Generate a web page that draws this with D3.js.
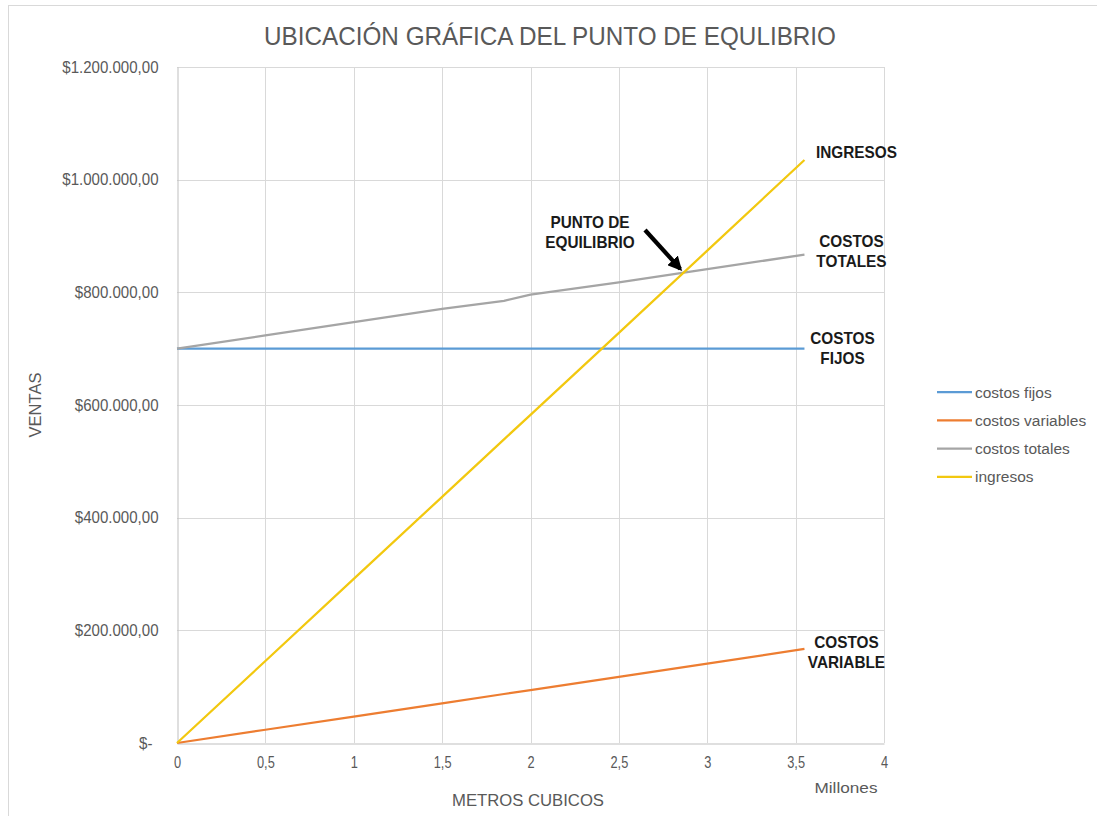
<!DOCTYPE html>
<html>
<head>
<meta charset="utf-8">
<script src="https://cdn.jsdelivr.net/npm/d3@7/dist/d3.min.js"></script>
<style>
  html, body { margin: 0; padding: 0; background: #fff; }
  svg { display: block; font-family: "Liberation Sans", Arial, sans-serif; }
</style>
</head>
<body>
<svg id="chart" width="1097" height="816"></svg>
<script>
// Volumen vendido (metros cúbicos)
const metros = [0, 500000, 1000000, 1500000, 1850000, 2000000, 2500000, 3000000, 3550000];
// Series en pesos
const costosFijos     = [700000, 700000, 700000, 700000, 700000, 700000, 700000, 700000, 700000];
const costosVariables = [0, 23500, 47000, 70500, 87000, 94000, 117500, 141000, 167000];
const costosTotales   = [700000, 723500, 747000, 770500, 785000, 796000, 817500, 841000, 867000];
const ingresos        = [0, 145600, 291300, 437000, 539000, 582600, 728000, 874000, 1035000];

const xTicks = [0, 500000, 1000000, 1500000, 2000000, 2500000, 3000000, 3500000, 4000000];
const xTickLabels = ["0", "0,5", "1", "1,5", "2", "2,5", "3", "3,5", "4"];
const yTicks = [0, 200000, 400000, 600000, 800000, 1000000, 1200000];
const yTickLabels = ["$-", "$200.000,00", "$400.000,00", "$600.000,00", "$800.000,00", "$1.000.000,00", "$1.200.000,00"];

const seriesNames = ["costos fijos", "costos variables", "costos totales", "ingresos"];
const seriesColors = ["#5B9BD5", "#ED7D31", "#A5A5A5", "#F2C80F"];
const seriesValues = [costosFijos, costosVariables, costosTotales, ingresos];
const endLabels = [["COSTOS", "FIJOS"], ["COSTOS", "VARIABLE"], ["COSTOS", "TOTALES"], ["INGRESOS"]];

const svg = d3.select("#chart");
const x = d3.scaleLinear().domain([0, 4000000]).range([177, 884]);
const y = d3.scaleLinear().domain([0, 1200000]).range([743, 67]);

// Narrow the glyphs of a text element horizontally by a factor
function squeeze(sel, f) {
  sel.each(function () {
    const w = this.getComputedTextLength();
    d3.select(this).attr("textLength", w * f).attr("lengthAdjust", "spacingAndGlyphs");
  });
}

// Chart frame
svg.append("rect").attr("x", 8.5).attr("y", 5.5).attr("width", 1200).attr("height", 900)
  .attr("fill", "none").attr("stroke", "#D9D9D9");

// Gridlines
svg.append("g").selectAll("line").data(yTicks.slice(1)).join("line")
  .attr("x1", x(0)).attr("x2", x(4000000))
  .attr("y1", d => Math.round(y(d)) + 0.5).attr("y2", d => Math.round(y(d)) + 0.5)
  .attr("stroke", "#D9D9D9");
svg.append("g").selectAll("line").data(xTicks.slice(1)).join("line")
  .attr("y1", y(0)).attr("y2", y(1200000))
  .attr("x1", d => Math.round(x(d)) + 0.5).attr("x2", d => Math.round(x(d)) + 0.5)
  .attr("stroke", "#D9D9D9");

// Axes
const xAxis = d3.axisBottom(x).tickValues(xTicks).tickSize(0).tickPadding(13)
  .tickFormat((d, i) => xTickLabels[i]);
const gx = svg.append("g").attr("transform", `translate(0,${Math.round(y(0)) + 0.5})`).call(xAxis);
gx.attr("font-family", null).attr("font-size", null);
gx.select(".domain").attr("stroke", "#BFBFBF");
gx.selectAll("text").attr("fill", "#595959").attr("font-size", 16).call(squeeze, 0.8);

const yAxis = d3.axisLeft(y).tickValues(yTicks).tickSize(0).tickPadding(19)
  .tickFormat((d, i) => yTickLabels[i]);
const gy = svg.append("g").attr("transform", `translate(${Math.round(x(0)) + 0.5},0)`).call(yAxis);
gy.attr("font-family", null).attr("font-size", null);
gy.select(".domain").attr("stroke", "#BFBFBF");
gy.selectAll("text").attr("fill", "#595959").attr("font-size", 16)
  .attr("dx", (d) => d === 0 ? -6 : 0).call(squeeze, 0.94);

// Series lines
const line = d3.line().x((d, i) => x(metros[i])).y(d => y(d));
seriesValues.forEach((vals, k) => {
  svg.append("path").datum(vals).attr("d", line)
    .attr("fill", "none").attr("stroke", seriesColors[k]).attr("stroke-width", 2.25)
    .attr("stroke-linejoin", "round");
});

// Labels at the end of each series
const last = metros.length - 1;
const labelPos = [[38, -5], [42, -1], [47, -8], [52, -2]];
seriesValues.forEach((vals, k) => {
  const cx = x(metros[last]) + labelPos[k][0];
  const cy = y(vals[last]) + labelPos[k][1];
  const t = svg.append("text").attr("text-anchor", "middle")
    .attr("font-size", 16.5).attr("font-weight", "bold").attr("fill", "#1A1A1A");
  endLabels[k].forEach((s, j) => {
    t.append("tspan").attr("x", cx).attr("y", cy + j * 20).text(s);
  });
  t.selectAll("tspan").call(squeeze, 0.93);
});

// Break-even annotation
const pe = 2864000;
const peY = 700000 + 0.04703 * pe;
const tipX = x(pe), tipY = y(peY);
const ann = svg.append("text").attr("text-anchor", "middle")
  .attr("font-size", 16.5).attr("font-weight", "bold").attr("fill", "#1A1A1A");
ann.append("tspan").attr("x", 590).attr("y", 228).text("PUNTO DE");
ann.append("tspan").attr("x", 590).attr("y", 248).text("EQUILIBRIO");
ann.selectAll("tspan").call(squeeze, 0.93);

svg.append("defs").append("marker").attr("id", "arrow")
  .attr("viewBox", "0 0 10 10").attr("refX", 8).attr("refY", 5)
  .attr("markerWidth", 3.4).attr("markerHeight", 3.4).attr("orient", "auto")
  .append("path").attr("d", "M0,0 L10,5 L0,10 Z").attr("fill", "#000");
svg.append("line").attr("x1", 645).attr("y1", 230).attr("x2", tipX - 3).attr("y2", tipY - 4)
  .attr("stroke", "#000").attr("stroke-width", 4.2).attr("marker-end", "url(#arrow)");

// Title
svg.append("text").attr("x", 550).attr("y", 45).attr("text-anchor", "middle")
  .attr("font-size", 25).attr("fill", "#595959")
  .attr("textLength", 572).attr("lengthAdjust", "spacingAndGlyphs")
  .text("UBICACIÓN GRÁFICA DEL PUNTO DE EQULIBRIO");

// Axis titles
svg.append("text").attr("transform", "translate(41,405) rotate(-90)")
  .attr("text-anchor", "middle").attr("font-size", 16).attr("fill", "#595959")
  .attr("textLength", 65).attr("lengthAdjust", "spacingAndGlyphs").text("VENTAS");
svg.append("text").attr("x", 528).attr("y", 806).attr("text-anchor", "middle")
  .attr("font-size", 16).attr("fill", "#595959")
  .attr("textLength", 152).attr("lengthAdjust", "spacingAndGlyphs").text("METROS CUBICOS");
svg.append("text").attr("x", 846).attr("y", 793).attr("text-anchor", "middle")
  .attr("font-size", 15).attr("fill", "#595959")
  .attr("textLength", 63).attr("lengthAdjust", "spacingAndGlyphs").text("Millones");

// Legend
const lg = svg.append("g");
seriesNames.forEach((n, k) => {
  const ly = 392 + k * 28.3;
  lg.append("line").attr("x1", 937).attr("x2", 972).attr("y1", ly).attr("y2", ly)
    .attr("stroke", seriesColors[k]).attr("stroke-width", 2.25);
  lg.append("text").attr("x", 975).attr("y", ly + 5.5).attr("font-size", 15.5)
    .attr("fill", "#595959").text(n);
});
</script>
</body>
</html>
